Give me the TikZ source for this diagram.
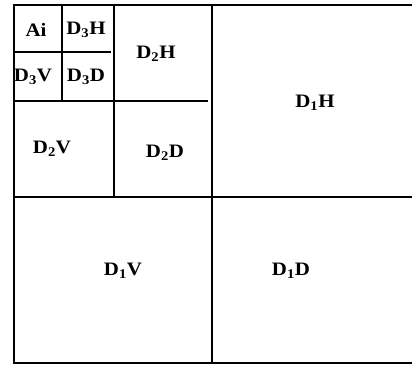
\documentclass[tikz,border=0pt]{standalone}
\usepackage{fontspec}
\setmainfont{Liberation Serif}[BoldFont={Liberation Serif Bold}]
\begin{document}
\begin{tikzpicture}[x=1pt,y=-1pt,
  grid/.style={line width=1.6pt,black},
  band/.style={font=\bfseries\fontsize{19}{21}\selectfont,inner sep=0pt,anchor=center,xscale=1.1}]
\useasboundingbox (0,0) rectangle (412,365);
% outer frame (open on the right)
\draw[grid] (412,5) -- (14,5) -- (14,363) -- (412,363);
% level 1 split
\draw[grid] (212,5) -- (212,363);
\draw[grid] (14,197) -- (412,197);
% level 2 split
\draw[grid] (14,101) -- (208,101);
\draw[grid] (114,5) -- (114,197);
% level 3 split
\draw[grid] (14,52) -- (111,52);
\draw[grid] (62,5) -- (62,101);
% sub-band labels
\node[band] (ai)  at (36,30)   {Ai};
\node[band] (d3h) at (86,30)   {D\textsubscript{3}H};
\node[band] (d3v) at (33,77)   {D\textsubscript{3}V};
\node[band] (d3d) at (86,77)   {D\textsubscript{3}D};
\node[band] (d2h) at (156,54)  {D\textsubscript{2}H};
\node[band] (d2v) at (52,149)  {D\textsubscript{2}V};
\node[band] (d2d) at (165,153) {D\textsubscript{2}D};
\node[band] (d1h) at (315,103) {D\textsubscript{1}H};
\node[band] (d1v) at (123,271) {D\textsubscript{1}V};
\node[band] (d1d) at (291,271) {D\textsubscript{1}D};
\end{tikzpicture}
\end{document}
